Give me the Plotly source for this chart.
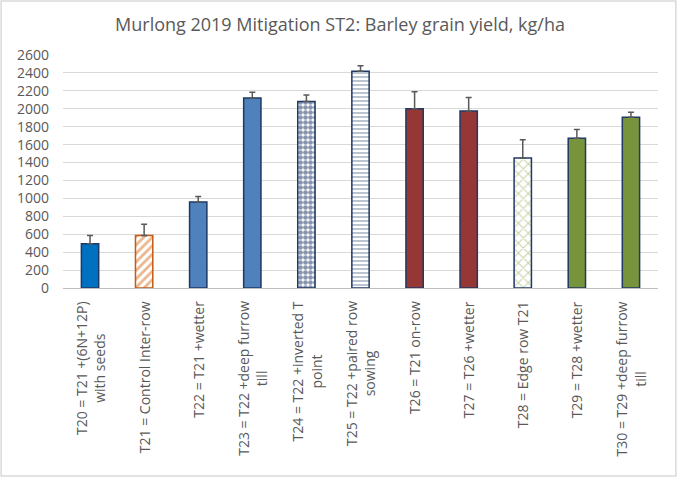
import plotly.graph_objects as go

# Treatments, mean yield (kg/ha) and +error
labels = [
    "T20 = T21 +(6N+12P)<br>with seeds",
    "T21 = Control Inter-row",
    "T22 = T21 +wetter",
    "T23 = T22 +deep furrow<br>till",
    "T24 = T22 +inverted T<br>point",
    "T25 = T22 +paired row<br>sowing",
    "T26 = T21 on-row",
    "T27 = T26 +wetter",
    "T28 = Edge row T21",
    "T29 = T28 +wetter",
    "T30 = T29 +deep furrow<br>till",
]
yields = [495, 585, 960, 2120, 2080, 2420, 2000, 1975, 1450, 1670, 1905]
errors = [90, 125, 60, 65, 75, 60, 190, 150, 205, 100, 55]
y_ticks = list(range(0, 2601, 200))

# per-bar look: fill colour, outline and pattern
fill_colors = ["#0070C0", "white", "#4F81BD", "#4F81BD", "white", "white",
               "#953735", "#953735", "white", "#77933C", "#77933C"]
edge_colors = ["#1F3864", "#C55A11", "#1F3864", "#1F3864", "#1F3864", "#1F3864",
               "#1F3864", "#1F3864", "#1F3864", "#1F3864", "#1F3864"]
pat_shapes = ["", "/", "", "", ".", "-", "", "", "x", "", ""]
pat_fg = ["#0070C0", "#D86A1A", "#4F81BD", "#4F81BD", "#0F2A5C", "#1F3864",
          "#953735", "#953735", "#8FA84F", "#77933C", "#77933C"]
pat_size = [6, 6, 6, 6, 5, 4, 6, 6, 7, 6, 6]
pat_solid = [0.3, 0.45, 0.3, 0.3, 0.7, 0.3, 0.3, 0.3, 0.28, 0.3, 0.3]

fig = go.Figure()

# one trace per bar so each can carry its own pattern
for i in range(len(labels)):
    pattern = dict(shape=pat_shapes[i])
    if pat_shapes[i]:
        pattern.update(fgcolor=pat_fg[i], bgcolor="white",
                       size=pat_size[i], solidity=pat_solid[i])
    fig.add_trace(go.Bar(
        x=[i],
        y=[yields[i]],
        marker=dict(
            color=fill_colors[i],
            line=dict(color=edge_colors[i], width=1.5),
            pattern=pattern,
        ),
        error_y=dict(type="data", symmetric=False, array=[errors[i]],
                     arrayminus=[0], color="#595959", thickness=1.5, width=3),
        width=0.32,
        showlegend=False,
    ))

# category labels, rotated and centred per line like the original
for i, lab in enumerate(labels):
    fig.add_annotation(
        x=i, y=0, xref="x", yref="paper",
        text=lab, textangle=-90, showarrow=False,
        xanchor="center", yanchor="top", yshift=-11, align="center",
        font=dict(family="Open Sans", size=14, color="#595959"),
    )

# light frame round the chart
fig.add_shape(type="rect", xref="paper", yref="paper",
              x0=-0.104, x1=1.030, y0=-0.807, y1=1.232,
              line=dict(color="#D9D9D9", width=1.5))

fig.update_layout(
    width=680,
    height=479,
    paper_bgcolor="white",
    plot_bgcolor="white",
    margin=dict(l=63, r=22, t=55, b=191),
    title=dict(
        text="Murlong 2019 Mitigation ST2: Barley grain yield, kg/ha",
        x=0.5, xref="container", y=1 - 25 / 479, yanchor="middle",
        font=dict(family="Open Sans", size=18, color="#595959"),
    ),
    xaxis=dict(
        range=[-0.5, len(labels) - 0.5],
        showticklabels=False,
        showgrid=False,
        zeroline=False,
        showline=True, linecolor="#BFBFBF", linewidth=1,
    ),
    yaxis=dict(
        range=[0, 2600],
        tickvals=y_ticks,
        showgrid=True, gridcolor="#D9D9D9", gridwidth=1,
        zeroline=False,
        ticks="", ticklabelstandoff=13,
        tickfont=dict(family="Open Sans", size=14, color="#595959"),
    ),
)

fig.write_html("out.html", config={"displayModeBar": False},
               post_script="document.body.style.margin='0';")
